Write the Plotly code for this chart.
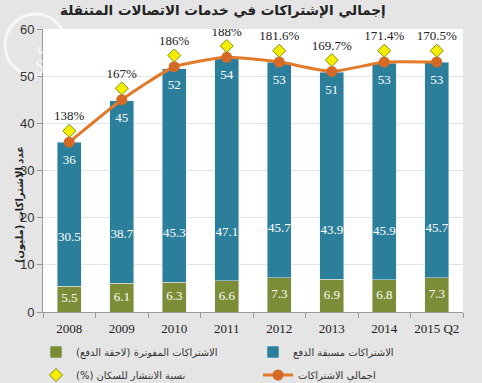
import plotly.graph_objects as go

years = ["2008", "2009", "2010", "2011", "2012", "2013", "2014", "2015 Q2"]
postpaid = [5.5, 6.1, 6.3, 6.6, 7.3, 6.9, 6.8, 7.3]
prepaid = [30.5, 38.7, 45.3, 47.1, 45.7, 43.9, 45.9, 45.7]
total = [36, 45, 52, 54, 53, 51, 53, 53]
penetration = [138, 167, 186, 188, 181.6, 169.7, 171.4, 170.5]
pen_labels = ["138%", "167%", "186%", "188%", "181.6%", "169.7%", "171.4%", "170.5%"]

RLM = "\u200f"
title = "إجمالي الإشتراكات في خدمات الاتصالات المتنقلة"
ytitle = "عدد الاشتراكات (مليون)" + RLM
n_post = "الاشتراكات المفوترة (لاحقة الدفع)" + RLM
n_pre = "الاشتراكات مسبقة الدفع"
n_pen = "نسبة الانتشار للسكان (%)" + RLM
n_tot = "اجمالي الاشتراكات"

BLUE = "#2c7f9b"
GREEN = "#7b8d36"
ORANGE = "#e27a2a"
SERIF = "Liberation Serif"
ARAB = "DejaVu Sans"

W, H = 482, 383
L, R, T, B = 43, 19, 29, 71
PW, PH = W - L - R, H - T - B

def px(x):
    return (x - L) / PW

def py(y):
    return (H - B - y) / PH

fig = go.Figure()

fig.add_trace(go.Bar(x=years, y=postpaid, name=n_post, marker_color=GREEN,
                     width=0.46, legend="legend"))
fig.add_trace(go.Bar(x=years, y=prepaid, name=n_pre, marker_color=BLUE,
                     width=0.46, legend="legend2"))

# labels inside bars
fig.add_trace(go.Scatter(x=years, y=[v / 2 for v in postpaid], mode="text",
                         text=[str(v) for v in postpaid], showlegend=False,
                         textfont=dict(family=SERIF, size=13, color="white"),
                         hoverinfo="skip"))
fig.add_trace(go.Scatter(x=years, y=[p + 10.3 for p in postpaid], mode="text",
                         text=[str(v) for v in prepaid], showlegend=False,
                         textfont=dict(family=SERIF, size=13, color="white"),
                         hoverinfo="skip"))
fig.add_trace(go.Scatter(x=years, y=[t - 4 for t in total], mode="text",
                         text=[str(v) for v in total], showlegend=False,
                         textfont=dict(family=SERIF, size=13, color="white"),
                         hoverinfo="skip"))

# total line
fig.add_trace(go.Scatter(x=years, y=total, name=n_tot, mode="lines+markers",
                         line=dict(color=ORANGE, width=3, shape="spline", smoothing=0.5),
                         marker=dict(color="#d46a26", size=11),
                         legend="legend4"))

# penetration diamonds, placed just above the totals
fig.add_trace(go.Scatter(x=years, y=[t + 2.4 for t in total], name=n_pen,
                         mode="markers", customdata=penetration,
                         marker=dict(symbol="diamond", size=10, color="#f4ef00",
                                     line=dict(color="#8a8a10", width=1)),
                         legend="legend3"))
fig.add_trace(go.Scatter(x=years, y=[t + 5.3 for t in total], mode="text",
                         text=pen_labels, showlegend=False, hoverinfo="skip",
                         textfont=dict(family=SERIF, size=13, color="#222")))

leg_common = dict(orientation="v", xanchor="left", yanchor="middle",
                  bgcolor="rgba(0,0,0,0)", font=dict(family=ARAB, size=10, color="#333"),
                  itemwidth=30)

fig.update_layout(
    width=W, height=H,
    margin=dict(l=L, r=R, t=T, b=B, autoexpand=False),
    paper_bgcolor="#e5e5e5",
    plot_bgcolor="white",
    barmode="stack",
    legend=dict(x=px(36), y=py(352), **leg_common),
    legend2=dict(x=px(253), y=py(352), **leg_common),
    legend3=dict(x=px(36), y=py(375), **leg_common),
    legend4=dict(x=px(258), y=py(375), **leg_common),
    xaxis=dict(type="category", range=[-0.5, 7.5], showline=True, linecolor="#999",
               ticks="outside", tickson="boundaries", ticklen=5, tickcolor="#999",
               tickangle=0, automargin=False, ticklabelstandoff=4,
               tickfont=dict(family=SERIF, size=13, color="#222"), showgrid=False),
    yaxis=dict(range=[0, 60], dtick=10, showline=True, linecolor="#999",
               ticks="outside", ticklen=5, tickcolor="#999", automargin=False,
               gridcolor="#e4e4e4", gridwidth=1, zeroline=False,
               tickfont=dict(family="Liberation Sans", size=13, color="#333")),
    showlegend=True,
)

fig.add_annotation(text="<b>" + title + "</b>", xref="paper", yref="paper",
                   x=px(223), y=py(10), showarrow=False, xanchor="center", yanchor="middle",
                   font=dict(family=ARAB, size=13.5, color="#222"))
fig.add_annotation(text="<b>" + ytitle + "</b>", xref="paper", yref="paper",
                   x=px(12), y=py(205), showarrow=False, textangle=-90,
                   font=dict(family=ARAB, size=10, color="#222"))

# faint watermark logo
fig.add_shape(type="circle", xref="paper", yref="paper",
              x0=px(5), x1=px(66), y0=py(76), y1=py(14),
              line=dict(color="rgba(255,255,255,0.7)", width=3), layer="below")
fig.add_annotation(text="واس", xref="paper", yref="paper", x=px(35), y=py(33),
                   showarrow=False, font=dict(family=ARAB, size=16, color="rgba(255,255,255,0.7)"))
fig.add_annotation(text="SPA", xref="paper", yref="paper", x=px(33), y=py(55),
                   showarrow=False, font=dict(family=SERIF, size=18, color="rgba(255,255,255,0.7)"))

fig.write_html("out.html", config={"displayModeBar": False},
               post_script="document.body.style.margin='0';document.body.style.overflow='hidden';")
